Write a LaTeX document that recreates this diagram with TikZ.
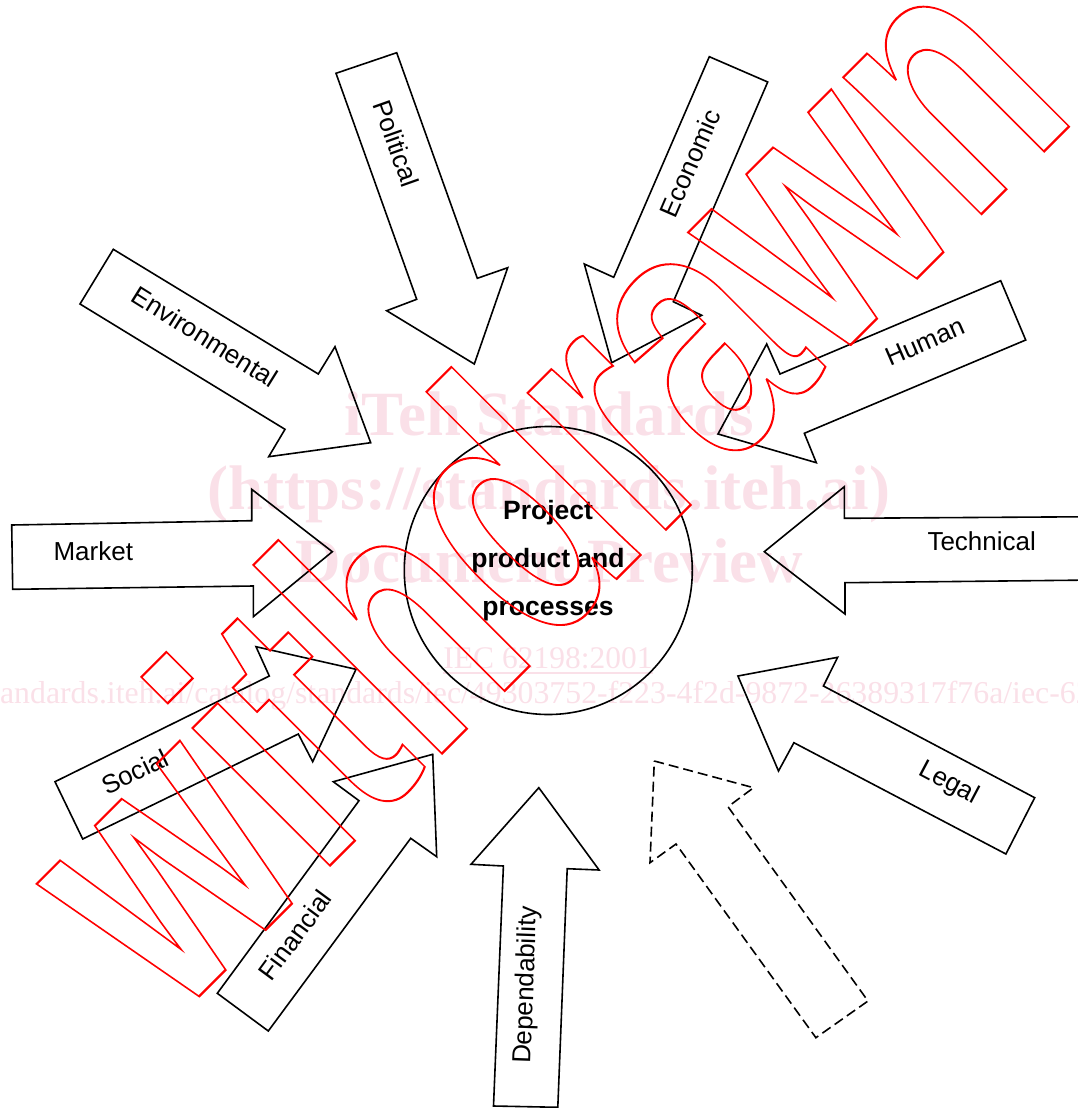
\documentclass[tikz,border=0pt]{standalone}
\usepackage{fontspec}
\setmainfont{Liberation Sans}
\newfontfamily\wmserif{Liberation Serif}
\newfontfamily\wmsans{Liberation Sans}
\definecolor{wmpink}{RGB}{250,224,232}
\newcommand\outlinetext[1]{\special{pdf:literal direct 1 Tr 2.2 w}#1\special{pdf:literal direct 0 Tr}}
\begin{document}
\begin{tikzpicture}[x=1pt,y=-1pt,
  arrowshape/.style={draw=black,line width=1.6pt,line join=miter},
  dashedshape/.style={arrowshape,dash pattern=on 10pt off 5pt},
  lbl/.style={inner sep=0pt,font=\fontsize{26}{30}\selectfont},
  wmbig/.style={anchor=base,inner sep=0pt,text=wmpink,font=\wmserif\bfseries\fontsize{63}{63}\selectfont},
  wmsmall/.style={anchor=base,inner sep=0pt,text=wmpink,font=\wmserif\fontsize{31.5}{31.5}\selectfont}]
\useasboundingbox (0,0) rectangle (1078,1108);
\clip (0,0) rectangle (1078,1108);

% watermark (behind)
\node[wmbig] (wm1) at (549,435) {iTeh Standards};
\node[wmbig] (wm2) at (549,509) {(https://standards.iteh.ai)};
\node[wmbig] (wm3) at (549,582) {Document Preview};
\node[wmsmall] (wm4) at (548,668) {IEC 62198:2001};
\draw[wmpink,line width=1.5pt] ([yshift=-5pt]wm4.base west) -- ([yshift=-5pt]wm4.base east);
\node[wmsmall,font=\wmserif\fontsize{31.8}{31.8}\selectfont] (wm5) at (552,703) {https://standards.iteh.ai/catalog/standards/iec/49303752-f223-4f2d-9872-26389317f76a/iec-62198-2001};

% arrows
\draw[arrowshape] (113.3,249.3) -- (318.3,374) -- (335,346.7) -- (370.7,442.7) -- (268.7,456.7) -- (285,429.3) -- (80,304) -- cycle;
\draw[arrowshape] (11.7,525) -- (251.7,520.7) -- (251.7,489.3) -- (332.3,551.7) -- (253.3,616.7) -- (253.3,586) -- (12.7,589.3) -- cycle;
\draw[arrowshape] (336,73.3) -- (396.7,52.7) -- (477.3,278.3) -- (507.7,267.7) -- (474.3,364) -- (386.7,310.7) -- (416.7,299.3) -- cycle;
\draw[arrowshape] (709.3,56.7) -- (767.7,82) -- (673.3,301.7) -- (701.7,315.3) -- (611.7,362.7) -- (584.3,264) -- (613.7,277.3) -- cycle;
\draw[arrowshape] (1000.7,280.7) -- (1025.7,340) -- (804.3,433.3) -- (816.3,462.7) -- (718,434) -- (766.7,344) -- (780,374) -- cycle;
\draw[arrowshape] (1095,516.7) -- (844.3,518.3) -- (844.3,486.7) -- (764.3,551.7) -- (845,614) -- (845,582.7) -- (1095,580);
\draw[arrowshape] (837.6,657.3) -- (823.4,686) -- (1034.7,797.7) -- (1005.9,854) -- (793.9,742.7) -- (778.5,771) -- (737.9,676) -- cycle;
\draw[arrowshape] (538.8,787.7) -- (599.1,870) -- (567.2,868.7) -- (557.8,1107.3) -- (493.5,1106) -- (503.4,866) -- (471,864.3) -- cycle;
\draw[dashedshape] (654.3,761) -- (753.6,787.7) -- (728,806.7) -- (868,1001) -- (815.9,1037.7) -- (676,844) -- (650,862.7) -- cycle;
\draw[arrowshape] (55,781.7) -- (269.3,676) -- (256,646.7) -- (356,669.3) -- (312.7,761.7) -- (298.3,734) -- (82.7,839) -- cycle;
\draw[arrowshape] (217.3,993.3) -- (359,800.7) -- (333.3,781.7) -- (432.7,754.3) -- (436.7,856.7) -- (410.7,838.3) -- (268.3,1031) -- cycle;

% centre
\node[circle,draw=black,line width=1.6pt,minimum size=288pt,inner sep=0pt] (core) at (548.3,570.5) {};
\node[align=center,inner sep=0pt,font=\bfseries\fontsize{26.5}{48}\selectfont] (coretext) at (548,560.3) {Project\\product and\\processes};

% labels
\node[lbl] (lmarket) at (93.3,551.7) {Market};
\node[lbl,rotate=-32] (lenv) at (205,336.7) {Environmental};
\node[lbl,rotate=-70.5] (lpol) at (396.7,143.3) {Political};
\node[lbl,rotate=66.6] (leco) at (690,163.3) {Economic};
\node[lbl,rotate=23.5] (lhum) at (925,341.7) {Human};
\node[lbl] (ltech) at (981.7,541.7) {Technical};
\node[lbl,rotate=-27.9] (llegal) at (948.8,783.3) {Legal};
\node[lbl,rotate=88] (ldep) at (527,985) {Dependability};
\node[lbl,rotate=26] (lsoc) at (135,771.7) {Social};
\node[lbl,rotate=53.5] (lfin) at (295,935) {Financial};

% red outline stamp
\node[anchor=base west,inner sep=0pt,rotate=45,xscale=0.704,text=red,font=\wmsans\bfseries\fontsize{368}{368}\selectfont] (wd) at (174.5,1021) {\outlinetext{withdrawn}};
\end{tikzpicture}
\end{document}
